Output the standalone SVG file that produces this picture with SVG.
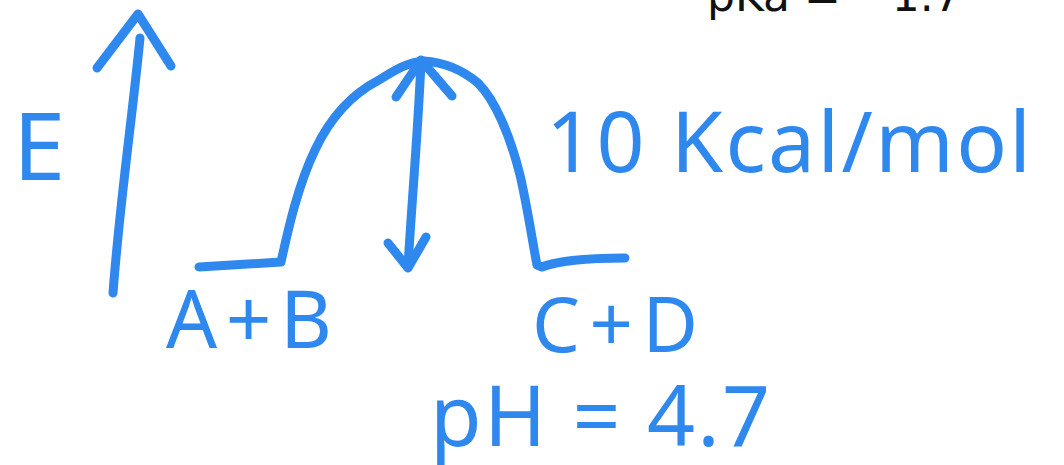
<svg xmlns="http://www.w3.org/2000/svg" width="1064" height="465" viewBox="0 0 1064 465">
<style>
.ink{fill:none;stroke:#2f88ee;stroke-width:9;stroke-linecap:round;stroke-linejoin:round}
.hw{fill:#2f88ee;font-family:"Noto Sans","DejaVu Sans",sans-serif}
.pk{fill:#111;font-family:"DejaVu Sans","Noto Sans",sans-serif;font-size:44px}
</style>
<rect width="1064" height="465" fill="#fff"/>
<text class="pk" x="707" y="11">pKa = −1.7</text>
<g id="axis">
<path class="ink" d="M113,293 C120,200 132,120 140,38"/>
<path class="ink" d="M97,68 L138,14 L171,66"/>
<text class="hw" x="13" y="180" font-size="94">E</text>
</g>
<g id="curve">
<path class="ink" d="M199,267 L281,262 C288,230 298,185 315,150 C330,118 350,95 379,80 C395,70 408,62 424,61 C440,62 460,68 478,83 C495,100 510,135 520,175 C528,210 533,245 537,265 L542,267 C560,260 590,258 625,258"/>
</g>
<g id="barrier">
<path class="ink" d="M421,62 C418,130 412,200 408,266"/>
<path class="ink" d="M396,97 L421,60 L452,96"/>
<path class="ink" d="M388,243 L408,268 L426,237"/>
<text class="hw" x="546" y="172" font-size="84" textLength="485" lengthAdjust="spacing">10 Kcal/mol</text>
</g>
<g id="labels">
<text class="hw" x="166" y="348" font-size="80" textLength="166" lengthAdjust="spacing">A+B</text>
<text class="hw" x="532" y="352" font-size="76" textLength="166" lengthAdjust="spacing">C+D</text>
<text class="hw" x="430" y="446" font-size="84" textLength="340" lengthAdjust="spacing">pH = 4.7</text>
</g>
</svg>
